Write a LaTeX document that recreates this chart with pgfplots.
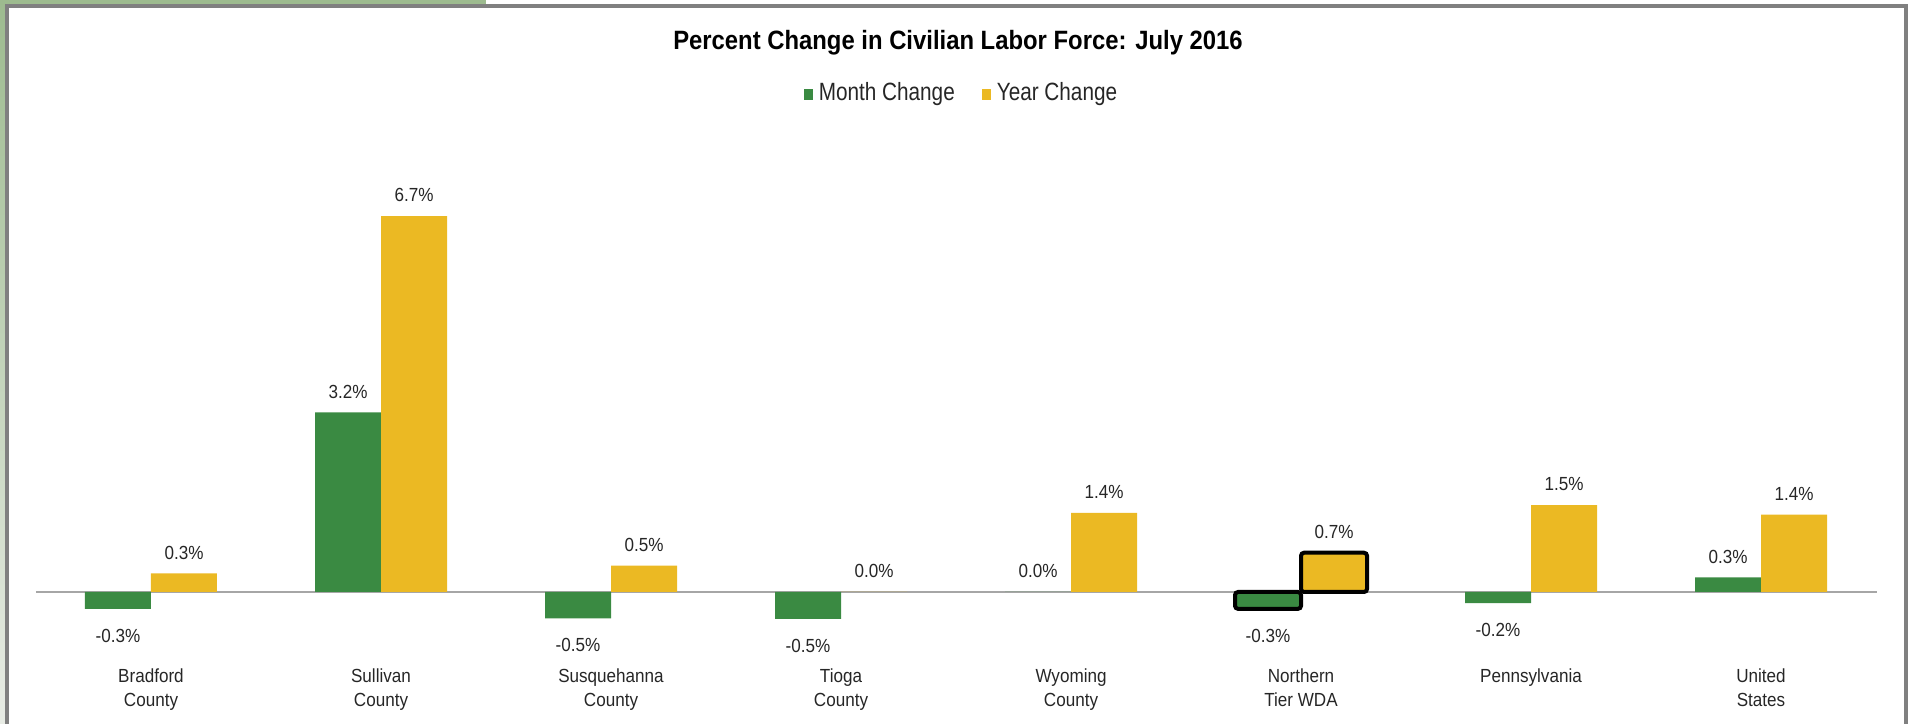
\documentclass[border=0pt]{standalone}
\usepackage{fontspec}
\setmainfont{Liberation Sans}
\newfontfamily\lblfont{Liberation Sans}[FakeStretch=0.9]
\newfontfamily\legfont{Liberation Sans}[FakeStretch=0.83]
\newfontfamily\ttlfont{Liberation Sans}[FakeStretch=0.9]
\usepackage{pgfplots}
\usepackage{pgfplotstable}
\pgfplotsset{compat=1.18}
\definecolor{mgreen}{RGB}{58,138,66}
\definecolor{myellow}{RGB}{235,185,35}
\definecolor{framegreen}{RGB}{157,187,143}
\definecolor{framegreenlight}{RGB}{232,236,229}
\definecolor{framegray}{RGB}{128,128,128}
\definecolor{zerogray}{RGB}{166,166,166}
\definecolor{txt}{RGB}{38,38,38}

\pgfplotstableread{
x m ml y yl
0 -0.30 -0.3 0.33 0.3
1 3.20 3.2 6.70 6.7
2 -0.47 -0.5 0.47 0.5
3 -0.48 -0.5 0.00 0.0
4 0.00 0.0 1.41 1.4
5 -0.30 -0.3 0.70 0.7
6 -0.20 -0.2 1.55 1.5
7 0.26 0.3 1.38 1.4
}\datatable

\begin{document}
\begin{tikzpicture}
\begin{axis}[
  ybar=0pt,
  at={(0,0)}, anchor=south west,
  scale only axis, width=191.1mm, height=72.4mm,
  xmin=-0.6565, xmax=7.652, ymin=-2.353, ymax=10.553,
  clip=false,
  axis line style={draw=none},
  major tick length=0pt,
  ytick=\empty,
  xtick={0,...,7},
  xticklabels={{Bradford\\County},{Sullivan\\County},{Susquehanna\\County},{Tioga\\County},{Wyoming\\County},{Northern\\Tier WDA},{Pennsylvania},{United\\States}},
  xticklabel style={font=\lblfont\fontsize{5.4}{6.75}\selectfont, text=txt, align=center, anchor=north, inner sep=0pt, yshift=5.6mm},
  bar width=6.6mm,
  legend image code/.code={\fill[#1,draw=none] (0mm,-0.55mm) rectangle (0.95mm,0.55mm);},
  legend style={draw=none, fill=none, legend columns=2, at={(0.5026,0.870)}, anchor=center,
    font=\legfont\fontsize{7.11}{8}\selectfont, text=txt,
    nodes={inner sep=0pt},
    /tikz/every odd column/.append style={column sep=0.55mm},
    /tikz/every even column/.append style={column sep=2.7mm}},
  every node near coord/.append style={font=\lblfont\fontsize{5.4}{6.3}\selectfont, text=txt, anchor=base, yshift=\myshift mm, inner sep=0pt},
]
\draw[zerogray, line width=0.2mm] (axis cs:-0.5,0) -- (axis cs:7.504,0);
\addplot[fill=mgreen, draw=none, bar shift=-3.3mm,
  point meta=explicit symbolic, nodes near coords={\pgfplotspointmeta\%},
  visualization depends on={ifthenelse(rawy<0,-3.33,1.43) \as \myshift}]
  table[x=x, y=m, meta=ml] {\datatable};
\addlegendentry{Month Change}
\addplot[fill=myellow, draw=none, bar shift=3.3mm,
  point meta=explicit symbolic, nodes near coords={\pgfplotspointmeta\%},
  visualization depends on={ifthenelse(rawy<0,-3.33,1.43) \as \myshift}]
  table[x=x, y=y, meta=yl] {\datatable};
\addlegendentry{Year Change}
\addplot[fill=mgreen, draw=black, line width=0.4mm, rounded corners=0.3mm, bar shift=-3.3mm, forget plot]
  coordinates {(5,-0.30)};
\addplot[fill=myellow, draw=black, line width=0.4mm, rounded corners=0.3mm, bar shift=3.3mm, forget plot]
  coordinates {(5,0.70)};
\end{axis}
\begin{scope}[x=0.1mm, y=0.1mm]
\shade[top color=framegreen, bottom color=framegreenlight] (0,0) rectangle (5,724);
\fill[framegreen] (0,719) rectangle (486,724);
\draw[framegray, line width=0.4mm] (7,0) -- (7,717.5) -- (1905.5,717.5) -- (1905.5,0);
\node[anchor=base, inner sep=0pt, font=\ttlfont\bfseries\fontsize{7.54}{9}\selectfont] at (958,674.5) {Percent Change in Civilian Labor Force: July 2016};
\pgfresetboundingbox
\path[use as bounding box] (0,0) rectangle (1911,724);
\end{scope}
\end{tikzpicture}
\end{document}
